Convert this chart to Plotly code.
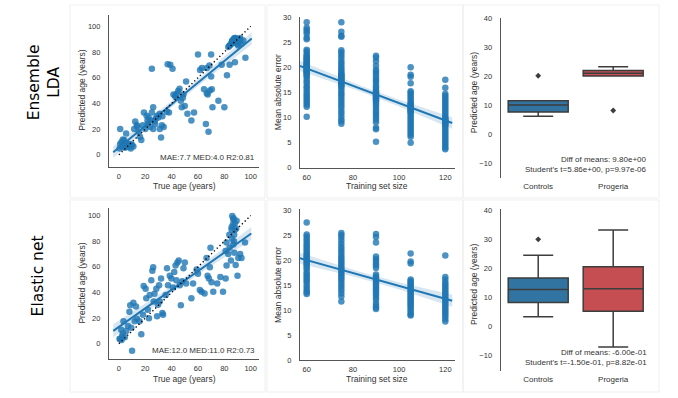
import numpy as np
import plotly.graph_objects as go

W, H = 678, 398

# ---------------- data ----------------
lda_true = [1, 2, 3.5, 6, 7, 9, 10, 5.5, 11, 1, 4, 0.5, 3, 8,
            12.4, 13.6, 11.6, 16, 17, 15,
            19, 21, 21.7, 20, 22.5, 25, 26, 25, 23.7, 26, 27.5, 29, 30, 31, 32, 32.6, 31, 34, 36.4,
            37, 39, 40.7, 41.4, 42.7, 44, 45, 46, 47, 47.7, 48.5, 50, 51, 52, 55, 57,
            60, 61.6, 63, 64.6, 66.7, 66, 67.4, 68, 68.7, 70, 70, 71, 69, 66.7, 70.5, 75.5, 78, 80,
            82, 83, 84, 85.6, 87, 88, 89, 92, 90.6, 94.4, 96, 85, 88, 93,
            18, 24, 28, 14, 33, 22, 27, 38, 43, 49,
            2.5, 4.5, 6.5, 8.5, 5, 9.5, 86, 87.5, 89.5, 91, 84, 86.5, 88.5, 90,
            86, 89, 91, 87, 84, 92]
lda_pred = [20, 10, 7.6, 9, 6, 5, 7.6, 16.5, 6.4, 8.4, 11.5, 5, 12, 8.5,
            26, 23, 20, 14, 11.5, 18,
            33, 30.5, 26.7, 20, 29, 33, 37, 67, 21.6, 20, 24, 30.5, 29, 20, 13.5, 23, 32, 21.6, 33.6,
            70.5, 70, 67, 47, 46, 47.6, 49.6, 51.4, 42, 37, 44.5, 38, 57, 32, 26.7, 33,
            78, 66, 67.5, 51, 67.5, 24, 47, 18, 69.5, 61, 78, 37, 50, 48, 51, 42, 70, 37,
            62, 84, 70, 88, 90, 72, 88, 90, 85, 89, 75.5, 86, 91, 86.5,
            23, 27, 28, 22, 30, 24, 26, 33, 45, 47,
            6, 5.5, 7, 6.5, 9, 8, 89, 90.5, 89.5, 88, 85, 87, 91, 86,
            88, 90, 89, 87, 85, 91]

en_true = [1, 2.5, 1.8, 3.5, 5.6, 6.9, 8, 8.6, 9.4, 10, 11, 12, 13, 13.7, 15.7, 17, 18.3, 18.8,
           20.3, 20.8, 22, 22.8, 23.4, 24.6, 25.4, 26, 26.4, 27, 28.4, 29, 29.7, 30.5, 31, 32, 33,
           33.5, 35.5, 36.5, 37.3, 38.6, 39.8, 41, 42, 43, 43.6, 44.4, 45.4, 46.2, 47, 48, 49, 50,
           51, 55, 56.3, 59, 60, 61.4, 62.7, 65, 66.5, 67.3, 68.3, 69, 69.5, 70.3, 71.6, 74.6, 77,
           79, 81, 81.7, 83, 83.8, 84, 85, 85.5, 86, 86.8, 87.3, 88, 88.6, 89.3, 90, 90.6, 92, 93,
           95.7, 81.7, 81, 86.8, 87.6, 85.5,
           0.5, 2, 3, 4.5, 86.5, 87, 88, 89, 87.5, 85.8]
en_pred = [3.6, 6, 11, 17.6, 10, 13.8, 25, 30, 12.5, -5.4, 32, 17.6, 29, 19.6, 17.6, 7.4, 22.7, 45,
           43, 35.5, 26.5, 20, 38, 49.5, 57, 59.7, 33, 39, 43, 21.4, 30.4, 45.7, 33, 51, 24,
           22.7, 38, 59, 45.7, 53, 51, 44, 56, 61, 49.5, 63.5, 65, 45.7, 30, 48.7, 59, 63.5,
           47, 35.5, 47, 58, 54.6, 42, 40.6, 39.3, 67, 53, 51, 59.7, 75, 48, 40.6, 47, 52,
           40.6, 51, 61, 70, 85, 75, 65, 91, 99.7, 97, 80, 89, 61.5, 96, 53, 67, 70, 67,
           79, 79, 72.4, 77.5, 71, 89,
           4, 3, 8, 5, 93, 98, 94, 90, 85, 82]

sizes = [60, 75, 90, 105, 120]
lda_mae = {
    60: [29.1, 28.0, 27.6, 27.2, 26.8, 26.0, 25.7, 23.6, 23.3, 22.8, 22.5, 22.2, 22.0, 21.8, 21.6,
         21.4, 21.2, 21.0, 20.8, 20.6, 20.5, 20.3, 20.2, 20.0, 19.8, 19.6, 19.5, 19.3, 19.2, 19.0,
         18.8, 18.5, 18.3, 17.8, 17.3, 16.9, 16.3, 16.0, 15.5, 15.0, 14.6, 14.2, 13.8, 13.4, 13.0,
         12.6, 12.2, 10.2],
    75: [29.1, 27.2, 26.4, 26.2, 23.5, 23.1, 22.6, 22.1, 21.5, 21.0, 20.6, 20.1, 19.7, 19.3, 18.9,
         18.7, 18.5, 18.3, 18.1, 17.9, 17.7, 17.5, 17.2, 17.0, 16.8, 16.5, 16.3, 15.9, 15.4, 14.9,
         14.5, 14.0, 13.5, 13.0, 12.5, 12.0, 11.4, 10.9, 10.3, 9.7, 9.3, 8.8],
    90: [22.4, 22.0, 21.3, 20.4, 19.6, 19.2, 18.8, 18.3, 17.8, 17.4, 17.0, 16.5, 16.1, 15.7, 15.3,
         15.1, 14.9, 14.7, 14.5, 14.3, 14.1, 13.9, 13.7, 13.5, 13.3, 12.9, 12.5, 12.0, 11.5, 11.0,
         10.6, 10.1, 9.6, 9.1, 8.0, 7.7, 5.2],
    105: [20.1, 18.6, 18.2, 16.9, 15.3, 15.0, 14.6, 14.2, 13.8, 13.4, 13.0, 12.8, 12.6, 12.4,
          12.2, 12.0, 11.8, 11.6, 11.4, 11.2, 11.0, 10.6, 10.2, 9.8, 9.4, 9.0, 8.6, 8.2, 7.8, 7.4,
          7.0, 6.6, 6.2, 5.0],
    120: [17.6, 16.0, 14.8, 14.4, 14.0, 13.6, 13.2, 12.8, 12.4, 12.0, 11.6, 11.2, 10.8, 10.4,
          10.0, 9.8, 9.6, 9.4, 9.2, 9.0, 8.8, 8.6, 8.4, 8.0, 7.6, 7.2, 6.8, 6.4, 6.0, 5.6, 5.2,
          4.8, 4.4, 4.0, 3.7],
}
en_mae = {
    60: [27.6, 25.2, 24.8, 24.3, 23.9, 23.4, 23.0, 22.6, 22.2, 21.8, 21.4, 21.1, 20.8, 20.5, 20.2,
         19.9, 19.6, 19.3, 19.0, 18.6, 18.2, 17.6, 17.2, 16.8, 16.4, 16.0, 15.6, 15.0, 14.5, 14.0,
         13.6, 13.3],
    75: [25.5, 25.1, 24.6, 24.0, 23.4, 22.8, 22.3, 21.8, 21.3, 20.8, 20.4, 20.0, 19.6, 19.2, 18.8,
         18.4, 18.0, 17.6, 17.2, 16.8, 16.4, 16.0, 15.5, 15.0, 14.5, 14.0, 13.4, 12.8, 11.8],
    90: [25.3, 24.7, 23.6, 20.8, 20.3, 19.9, 19.4, 19.0, 18.5, 17.2, 16.8, 16.4, 16.0, 15.6, 15.2,
         14.8, 14.4, 14.0, 13.6, 13.2, 12.7, 12.2, 11.5, 11.0, 10.6, 10.3],
    105: [21.4, 19.8, 19.4, 16.2, 15.9, 15.6, 15.3, 15.0, 14.7, 14.4, 14.1, 13.8, 13.5, 13.2,
          12.9, 12.6, 12.3, 12.0, 11.7, 11.4, 11.1, 10.8, 10.4, 10.0, 9.6, 9.2, 9.0],
    120: [21.0, 16.7, 16.2, 15.6, 15.2, 14.8, 14.4, 14.0, 13.6, 13.2, 12.8, 12.4, 12.0, 11.6,
          11.2, 10.8, 10.4, 10.0, 9.6, 9.2, 8.8, 8.3, 7.8],
}

groups = ["Controls", "Progeria"]
# box stats: q1, median, q3, lower whisker, upper whisker
lda_box = {"Controls": (7.75, 10.2, 11.7, 6.3, 11.7), "Progeria": (20.2, 21.2, 22.1, 20.2, 23.4)}
lda_out = {"Controls": [20.3], "Progeria": [8.3]}
en_box = {"Controls": (8.3, 12.7, 16.7, 3.4, 24.5), "Progeria": (5.3, 13.0, 20.6, -7.0, 33.2)}
en_out = {"Controls": [30.0], "Progeria": []}

lda_stats = "MAE:7.7 MED:4.0 R2:0.81"
en_stats = "MAE:12.0 MED:11.0 R2:0.73"
lda_test = "Diff of means: 9.80e+00<br>Student's t=5.86e+00, p=9.97e-06"
en_test = "Diff of means: -6.00e-01<br>Student's t=-1.50e-01, p=8.82e-01"
row_labels = ["Ensemble<br>LDA", "Elastic net"]

BLUE = "#1f77b4"
BOXC = {"Controls": "#3274a1", "Progeria": "#c44e52"}
SPINE = "#555555"
TXT = "#333333"
FONT = "Liberation Sans, Arial, sans-serif"

fig = go.Figure()


def px(x):
    return x / W


def py(y):
    return 1 - y / H


def regline(x, y):
    x = np.asarray(x, float)
    y = np.asarray(y, float)
    n = len(x)
    b, a = np.polyfit(x, y, 1)
    span = x.max() - x.min()
    gx = np.linspace(x.min() - 0.05 * span, x.max() + 0.05 * span, 100)
    gy = a + b * gx
    resid = y - (a + b * x)
    s = np.sqrt(np.sum(resid ** 2) / (n - 2))
    sxx = np.sum((x - x.mean()) ** 2)
    se = s * np.sqrt(1.0 / n + (gx - x.mean()) ** 2 / sxx)
    return gx, gy, gy - 1.98 * se, gy + 1.98 * se


def add_reg(x, y, xa, ya, msize):
    gx, gy, lo, hi = regline(x, y)
    fig.add_trace(go.Scatter(x=x, y=y, mode="markers", xaxis=xa, yaxis=ya,
                             marker=dict(color=BLUE, size=msize, opacity=0.8, line=dict(width=0)),
                             showlegend=False, hoverinfo="skip"))
    fig.add_trace(go.Scatter(x=gx, y=lo, mode="lines", line=dict(width=0), xaxis=xa, yaxis=ya,
                             showlegend=False, hoverinfo="skip"))
    fig.add_trace(go.Scatter(x=gx, y=hi, mode="lines", line=dict(width=0), fill="tonexty",
                             fillcolor="rgba(31,119,180,0.18)", xaxis=xa, yaxis=ya,
                             showlegend=False, hoverinfo="skip"))
    fig.add_trace(go.Scatter(x=gx, y=gy, mode="lines", line=dict(color=BLUE, width=2),
                             xaxis=xa, yaxis=ya, showlegend=False, hoverinfo="skip"))


layout = dict(width=W, height=H, margin=dict(l=0, r=0, t=0, b=0),
              paper_bgcolor="white", plot_bgcolor="white", showlegend=False,
              font=dict(family=FONT, color=TXT, size=8))

axis_common = dict(showgrid=False, zeroline=False, ticks="", ticklen=0,
                   tickfont=dict(size=7.5, color=TXT), linecolor=SPINE, linewidth=1.2)

annotations = []
shapes = []

# panel frames
for (x0, y0, x1, y1) in [(70, 2, 265, 199), (267, 2, 463, 199), (463, 2, 659, 199),
                         (70, 201, 265, 397), (267, 201, 463, 397), (463, 201, 659, 397)]:
    shapes.append(dict(type="rect", xref="paper", yref="paper", x0=px(x0), x1=px(x1),
                       y0=py(y1), y1=py(y0), line=dict(color="#efefef", width=1)))

rows = [
    dict(top=12, bot=167, ytr=(-9.2, 109), true=lda_true, pred=lda_pred, stats=lda_stats,
         mtop=14, mbot=168, mae=lda_mae, btop=15, bbot=179, box=lda_box, out=lda_out,
         test=lda_test, label=row_labels[0], label_y=81, label_x=44),
    dict(top=209, bot=363.7, ytr=(-12.2, 106.1), true=en_true, pred=en_pred, stats=en_stats,
         mtop=210.7, mbot=364.7, mae=en_mae, btop=210.3, bbot=375.3, box=en_box, out=en_out,
         test=en_test, label=row_labels[1], label_y=279, label_x=38),
]

for r, row in enumerate(rows):
    k = 3 * r
    a1, a2, a3 = k + 1, k + 2, k + 3
    xa1, ya1 = f"x{a1}", f"y{a1}"
    xa2, ya2 = f"x{a2}", f"y{a2}"
    xa3, ya3 = f"x{a3}", f"y{a3}"

    # --- scatter true vs predicted
    add_reg(row["true"], row["pred"], xa1, ya1, 6.5)
    fig.add_trace(go.Scatter(x=[0, 100], y=[0, 100], mode="lines", xaxis=xa1, yaxis=ya1,
                             line=dict(color="black", width=1.4, dash="1.3px,2.6px"),
                             showlegend=False, hoverinfo="skip"))
    layout[f"xaxis{a1}"] = dict(axis_common, domain=[px(109), px(259)], range=[-7.5, 106.3],
                                anchor=ya1, showline=True, tickvals=[0, 20, 40, 60, 80, 100],
                                ticklabelstandoff=2)
    layout[f"yaxis{a1}"] = dict(axis_common, domain=[py(row["bot"]), py(row["top"])],
                                range=list(row["ytr"]), anchor=xa1, showline=True,
                                tickvals=[0, 20, 40, 60, 80, 100], ticklabelstandoff=6)
    annotations.append(dict(text=row["stats"], xref="paper", yref="paper", x=px(257),
                            y=py(row["bot"] - 9), xanchor="right", yanchor="middle",
                            showarrow=False, font=dict(size=8, color=TXT)))
    annotations.append(dict(text="True age (years)", xref="paper", yref="paper", x=px(184),
                            y=py(row["bot"] + 20), xanchor="center", yanchor="middle",
                            showarrow=False, font=dict(size=8.5, color=TXT)))
    annotations.append(dict(text="Predicted age (years)", xref="paper", yref="paper", x=px(82),
                            y=py((row["top"] + row["bot"]) / 2), textangle=-90,
                            xanchor="center", yanchor="middle", showarrow=False,
                            font=dict(size=8.5, color=TXT)))

    # --- learning curve
    xs, ys = [], []
    for s in sizes:
        xs += [s] * len(row["mae"][s])
        ys += row["mae"][s]
    add_reg(xs, ys, xa2, ya2, 6.5)
    layout[f"xaxis{a2}"] = dict(axis_common, domain=[px(300), px(455)], range=[57.1, 124.2],
                                anchor=ya2, showline=True, tickvals=[60, 80, 100, 120],
                                ticklabelstandoff=2)
    layout[f"yaxis{a2}"] = dict(axis_common, domain=[py(row["mbot"]), py(row["mtop"])],
                                range=[0, 30.2], anchor=xa2, showline=True,
                                tickvals=[0, 5, 10, 15, 20, 25, 30], ticklabelstandoff=6)
    annotations.append(dict(text="Training set size", xref="paper", yref="paper", x=px(377),
                            y=py(row["mbot"] + 19), xanchor="center", yanchor="middle",
                            showarrow=False, font=dict(size=8.5, color=TXT)))
    annotations.append(dict(text="Mean absolute error", xref="paper", yref="paper", x=px(278),
                            y=py((row["mtop"] + row["mbot"]) / 2), textangle=-90,
                            xanchor="center", yanchor="middle", showarrow=False,
                            font=dict(size=8.5, color=TXT)))

    # --- boxplot
    for g in groups:
        q1, med, q3, lo, hi = row["box"][g]
        fig.add_trace(go.Box(x=[g], q1=[q1], median=[med], q3=[q3], lowerfence=[lo],
                             upperfence=[hi], width=0.8, whiskerwidth=0.5,
                             fillcolor=BOXC[g], line=dict(color="#3d3d3d", width=1.5),
                             boxpoints=False, xaxis=xa3, yaxis=ya3, showlegend=False,
                             hoverinfo="skip"))
        if row["out"][g]:
            fig.add_trace(go.Scatter(x=[g] * len(row["out"][g]), y=row["out"][g], mode="markers",
                                     marker=dict(symbol="diamond", size=4.5, color="#3d3d3d"),
                                     xaxis=xa3, yaxis=ya3, showlegend=False, hoverinfo="skip"))
    layout[f"xaxis{a3}"] = dict(axis_common, domain=[px(500.7), px(650.7)], type="category",
                                categoryorder="array", categoryarray=groups, range=[-0.5, 1.5],
                                anchor=ya3, showline=False, ticklabelstandoff=2,
                                tickfont=dict(size=8, color=TXT))
    layout[f"yaxis{a3}"] = dict(axis_common, domain=[py(row["bbot"]), py(row["btop"])],
                                range=[-15.2, 40.4], anchor=xa3, showline=True,
                                tickvals=[-10, 0, 10, 20, 30, 40], ticklabelstandoff=6)
    annotations.append(dict(text=row["test"], xref="paper", yref="paper", x=px(649),
                            y=py(row["bbot"] - 14), xanchor="right", yanchor="middle",
                            align="right", showarrow=False, font=dict(size=8, color=TXT)))
    annotations.append(dict(text="Predicted age (years)", xref="paper", yref="paper", x=px(474),
                            y=py((row["btop"] + row["bbot"]) / 2 - 5), textangle=-90,
                            xanchor="center", yanchor="middle", showarrow=False,
                            font=dict(size=8.5, color=TXT)))

    # row label
    annotations.append(dict(text=row["label"], xref="paper", yref="paper", x=px(row["label_x"]),
                            y=py(row["label_y"]), textangle=-90, xanchor="center",
                            yanchor="middle", showarrow=False,
                            font=dict(size=15.5, color="black", family="DejaVu Sans")))

layout["annotations"] = annotations
layout["shapes"] = shapes
layout["boxmode"] = "overlay"
fig.update_layout(**layout)
fig.write_html("out.html", config={"displayModeBar": False},
               post_script="document.body.style.margin='0';document.body.style.overflow='hidden';")
